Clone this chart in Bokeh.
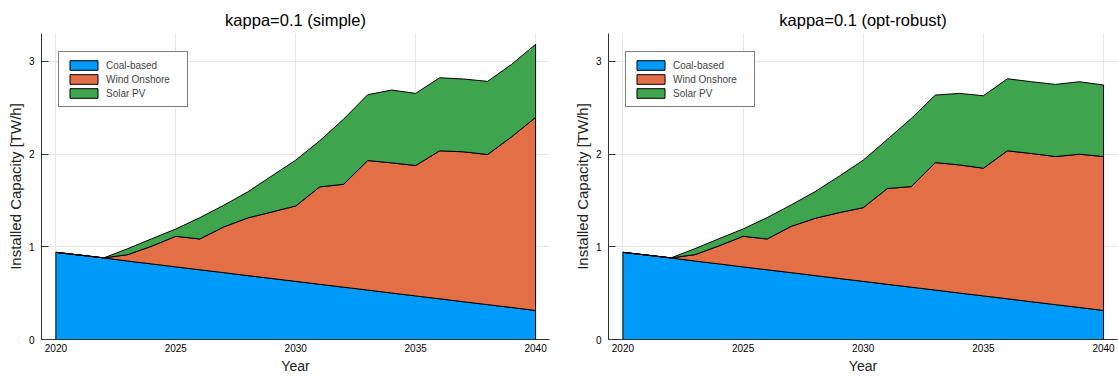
import numpy as np
from bokeh.plotting import figure
from bokeh.layouts import row
from bokeh.models import Range1d, FixedTicker
from bokeh.embed import file_html
from bokeh.resources import INLINE

# ---- data ----
years = list(range(2020, 2041))
coal = [0.940, 0.910, 0.880, 0.846, 0.815, 0.783, 0.752, 0.721, 0.689, 0.658, 0.627,
        0.595, 0.564, 0.533, 0.501, 0.470, 0.439, 0.407, 0.376, 0.345, 0.313]
wind_simple = [0.0, 0.0, 0.0, 0.069, 0.192, 0.330, 0.332, 0.493, 0.622, 0.717, 0.813,
               1.051, 1.110, 1.397, 1.404, 1.406, 1.596, 1.617, 1.619, 1.841, 2.082]
solar_simple = [0.0, 0.0, 0.0, 0.065, 0.080, 0.079, 0.230, 0.234, 0.281, 0.389, 0.494,
                0.497, 0.703, 0.710, 0.785, 0.778, 0.788, 0.785, 0.789, 0.781, 0.788]
wind_robust = [0.0, 0.0, 0.0, 0.069, 0.195, 0.330, 0.332, 0.499, 0.618, 0.710, 0.795,
               1.033, 1.085, 1.375, 1.382, 1.377, 1.596, 1.599, 1.597, 1.653, 1.660]
solar_robust = [0.0, 0.0, 0.0, 0.065, 0.077, 0.079, 0.230, 0.231, 0.288, 0.393, 0.512,
                0.529, 0.735, 0.728, 0.771, 0.782, 0.777, 0.774, 0.778, 0.782, 0.771]

titles = ["kappa=0.1 (simple)", "kappa=0.1 (opt-robust)"]
series_names = ["Coal-based", "Wind Onshore", "Solar PV"]
colors = ["#009AFA", "#E36F47", "#3EA44E"]
x_ticks = [2020, 2025, 2030, 2035, 2040]
y_ticks = [0, 1, 2, 3]
x_label = "Year"
y_label = "Installed Capacity [TW/h]"

FONT = "Liberation Sans"


def make_panel(title, layers, border_left, border_right):
    p = figure(width=559, height=377,
               x_range=Range1d(2019.4, 2040.58), y_range=Range1d(0, 3.30),
               output_backend="svg", toolbar_location=None, tools="",
               min_border_left=border_left, min_border_right=border_right,
               min_border_top=33, min_border_bottom=38)
    p.outline_line_color = None
    p.background_fill_color = "white"
    p.border_fill_color = "white"

    bottom = np.zeros(len(years))
    for name, vals, col in zip(series_names, layers, colors):
        top = bottom + np.array(vals)
        xs = years + years[::-1]
        ys = list(top) + list(bottom[::-1])
        p.patch(xs, ys, fill_color=col, line_color="black", line_width=1,
                legend_label=name)
        bottom = top

    # title
    p.title.text = title
    p.title.text_font = FONT
    p.title.text_font_size = "16.5px"
    p.title.text_font_style = "normal"
    p.title.align = "center"
    p.title.standoff = 9
    p.title.text_color = "black"

    # axes
    for ax in (p.xaxis[0], p.yaxis[0]):
        ax.axis_line_color = "#333333"
        ax.axis_line_width = 1
        ax.major_tick_line_color = "#333333"
        ax.minor_tick_line_color = None
        ax.major_tick_out = 0
        ax.major_label_text_font = FONT
        ax.major_label_text_font_size = "10px"
        ax.major_label_text_color = "black"
        ax.axis_label_text_font = FONT
        ax.axis_label_text_font_style = "normal"
        ax.axis_label_text_color = "#222222"
    p.xaxis.ticker = FixedTicker(ticks=x_ticks)
    p.yaxis.ticker = FixedTicker(ticks=y_ticks)
    p.xaxis.major_tick_in = 0
    p.yaxis.major_tick_in = 7
    p.xaxis.major_label_standoff = 4
    p.yaxis.major_label_standoff = 7
    p.xaxis.axis_label = x_label
    p.yaxis.axis_label = y_label
    p.xaxis.axis_label_text_font_size = "14px"
    p.yaxis.axis_label_text_font_size = "15px"
    p.xaxis.axis_label_standoff = 3
    p.yaxis.axis_label_standoff = 2

    # grid
    p.xgrid.grid_line_color = "#e6e6e6"
    p.ygrid.grid_line_color = "#e6e6e6"
    p.xgrid.ticker = FixedTicker(ticks=x_ticks)
    p.ygrid.ticker = FixedTicker(ticks=y_ticks)

    # legend
    lg = p.legend[0]
    lg.location = (17, 232)
    lg.border_line_color = "black"
    lg.border_line_width = 1
    lg.background_fill_color = "white"
    lg.background_fill_alpha = 1
    lg.label_text_font = FONT
    lg.label_text_font_size = "10px"
    lg.glyph_width = 35
    lg.glyph_height = 12
    lg.label_height = 12
    lg.label_width = 74
    lg.label_standoff = 5
    lg.spacing = 2
    lg.padding = 7
    lg.margin = 0
    return p


p1 = make_panel(titles[0], [coal, wind_simple, solar_simple], 41, 10)
p2 = make_panel(titles[1], [coal, wind_robust, solar_robust], 49, 1)

layout = row(p1, p2)
open("out.html", "w").write(file_html(layout, INLINE))
